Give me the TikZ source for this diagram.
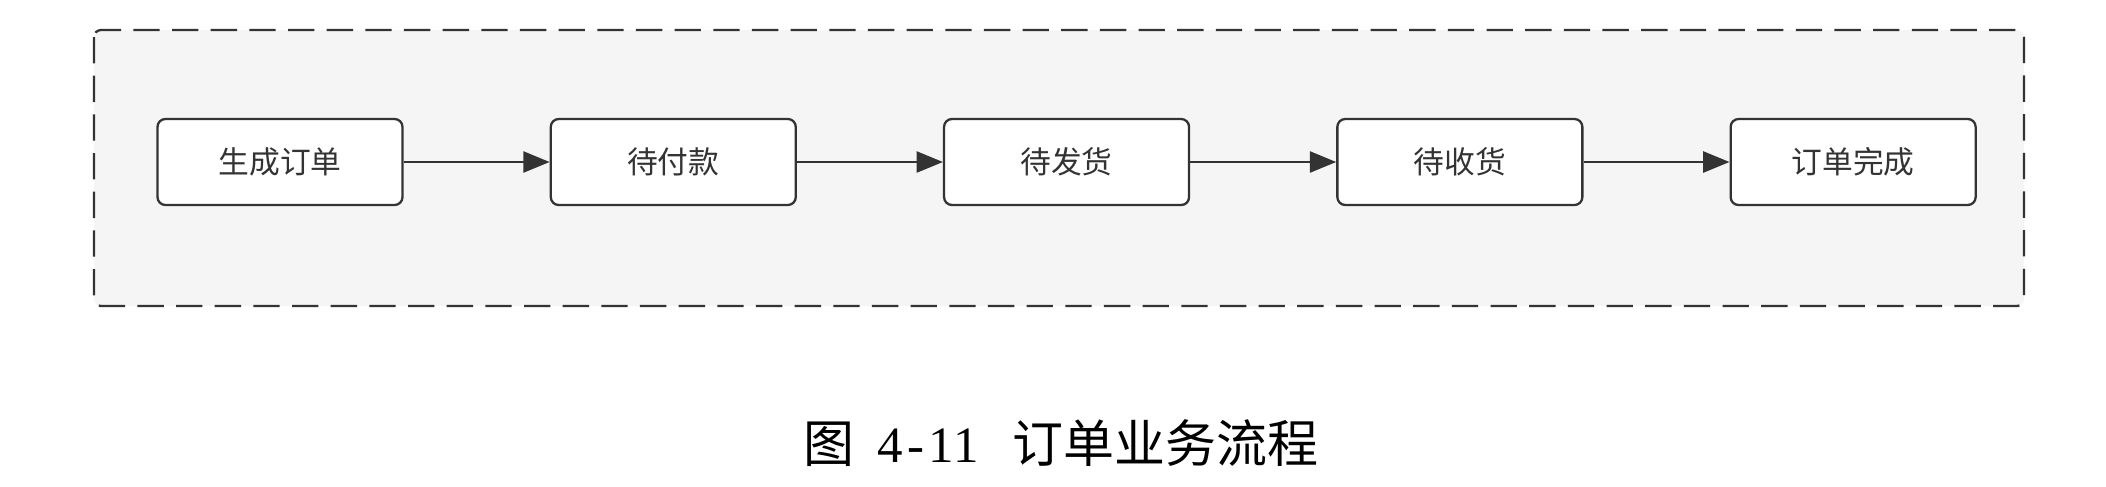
\documentclass[tikz,border=0pt]{standalone}
\usepackage{fontspec}
\usepackage{tikz}
\usetikzlibrary{arrows.meta, positioning}
\newfontfamily\cjk{Noto Sans CJK SC}
\newfontfamily\capserif{Liberation Serif}
\newcommand\halfw[1]{\makebox[0.5em]{#1}}
\definecolor{darkgray}{RGB}{51,51,51}
\definecolor{panelgray}{RGB}{245,245,245}

\begin{document}
\begin{tikzpicture}[
  node distance=1cm and 2.92cm,
  state/.style={rectangle, rounded corners=4.5pt, draw=darkgray, line width=1.3pt,
                fill=white, minimum width=4.9cm, minimum height=1.72cm,
                align=center, text=darkgray, font=\cjk\fontsize{17.5}{20}\selectfont},
  arr/.style={-{Triangle[length=15pt, width=12pt]}, line width=1.3pt, draw=darkgray},
  panel/.style={draw=darkgray, line width=1.3pt, fill=panelgray, rounded corners=4pt,
                dash pattern=on 15pt off 7pt},
]
  \useasboundingbox (0,0) rectangle (42.12,-9.72);

  % dashed panel
  \draw[panel] (1.88,-0.6) rectangle (40.48,-6.12);

  % order states
  \node[state] (create) at (5.6,-3.24) {生成订单};
  \node[state, right=of create] (topay)   {待付款};
  \node[state, right=of topay]  (toship)  {待发货};
  \node[state, right=of toship] (torecv)  {待收货};
  \node[state, right=of torecv] (done)    {订单完成};

  % arrows
  \draw[arr] (create) -- (topay);
  \draw[arr] (topay)  -- (toship);
  \draw[arr] (toship) -- (torecv);
  \draw[arr] (torecv) -- (done);

  % caption
  \node[font=\cjk\fontsize{29}{32}\selectfont] (caption) at (21.22,-8.86)
    {图\hspace{0.45em}{\capserif\halfw{4}\halfw{-}\halfw{1}\halfw{1}}\hspace{0.65em}订单业务流程};

\end{tikzpicture}
\end{document}
